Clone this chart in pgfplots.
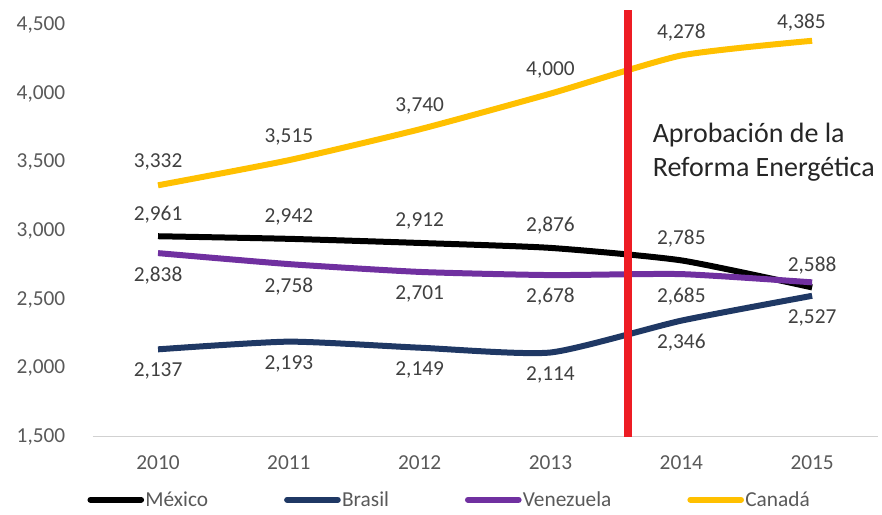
\documentclass[border=0pt]{standalone}
\usepackage{pgfplots}
\pgfplotsset{compat=1.18}
\usepackage{fontspec}
\setmainfont{Carlito}
\definecolor{mex}{HTML}{000000}
\definecolor{bra}{HTML}{1F3864}
\definecolor{ven}{HTML}{7030A0}
\definecolor{can}{HTML}{FFC000}
\definecolor{redline}{HTML}{ED1C24}
\definecolor{lbl}{HTML}{404040}
\definecolor{tickc}{HTML}{595959}
\begin{document}
\begin{tikzpicture}
\begin{axis}[
  scale only axis, width=589pt, height=309pt,
  xmin=-0.5, xmax=5.5, ymin=1500, ymax=4500,
  xtick={0,1,2,3,4,5}, xticklabels={2010,2011,2012,2013,2014,2015},
  ytick={1500,2000,2500,3000,3500,4000,4500},
  major tick length=0pt,
  separate axis lines, axis x line*=bottom, axis y line*=left,
  y axis line style={draw=none},
  x axis line style={draw=black!18, line width=1pt, -},
  tick label style={color=tickc, font=\fontsize{16}{19}\selectfont},
  yticklabel style={xshift=-17pt},
  xticklabel style={yshift=-11pt},
  /pgf/number format/1000 sep={,},
  /pgf/number format/assume math mode=true,
  clip=false,
  legend columns=4,
  legend cell align=left,
  legend style={at={(rel axis cs:-0.012,-0.153)}, anchor=west, draw=none, fill=none,
    font=\fontsize{16}{19}\selectfont, text=tickc, nodes={inner sep=1pt},
    /tikz/every even column/.append style={column sep=56pt}},
  legend image code/.code={\draw[#1, line width=4.5pt, line cap=round] (0pt,0pt) -- (38pt,0pt);},
  every axis plot/.append style={line width=4.5pt, smooth, tension=0.35},
  nodes near coords style={text=lbl, font=\fontsize{16}{19}\selectfont, anchor=center},
]
\path (rel axis cs:-0.118,-0.189) rectangle (rel axis cs:1.0057,1.0607);
% Mexico
\addplot[mex, nodes near coords, every node near coord/.append style={yshift=16.5pt}]
  coordinates {(0,2961) (1,2942) (2,2912) (3,2876) (4,2785) (5,2588)};
\addlegendentry{México}
% Brasil
\addplot[bra, nodes near coords, every node near coord/.append style={yshift=-16.5pt}]
  coordinates {(0,2137) (1,2193) (2,2149) (3,2114) (4,2346) (5,2527)};
\addlegendentry{Brasil}
% Venezuela
\addplot[ven] coordinates {(0,2838) (1,2758) (2,2701) (3,2678) (4,2685) (5,2625)};
\addlegendentry{Venezuela}
% Canada
\addplot[can] coordinates {(0,3332) (1,3515) (2,3740) (3,4000) (4,4278) (5,4385)};
\addlegendentry{Canadá}
% Canada labels
\addplot[draw=none, forget plot, nodes near coords, every node near coord/.append style={yshift=17.5pt}]
  coordinates {(0,3332) (1,3515) (2,3740) (3,4000) (4,4278)};
\addplot[draw=none, forget plot, nodes near coords, every node near coord/.append style={yshift=14pt, xshift=-8pt}]
  coordinates {(5,4385)};
% Venezuela labels (2015 unlabeled)
\addplot[draw=none, forget plot, nodes near coords, every node near coord/.append style={yshift=-16.5pt}]
  coordinates {(0,2838) (1,2758) (2,2701) (3,2678) (4,2685)};
% red line
\addplot[redline, line width=6pt, forget plot, smooth=false] coordinates {(3.59,1500) (3.59,4610)};
\node[anchor=north west, align=left, inner sep=0pt, text=black!85,
  font=\fontsize{21}{26}\selectfont] at (axis cs:3.78,3790) {Aprobación de la\\Reforma Energética};
\end{axis}
\end{tikzpicture}
\end{document}
